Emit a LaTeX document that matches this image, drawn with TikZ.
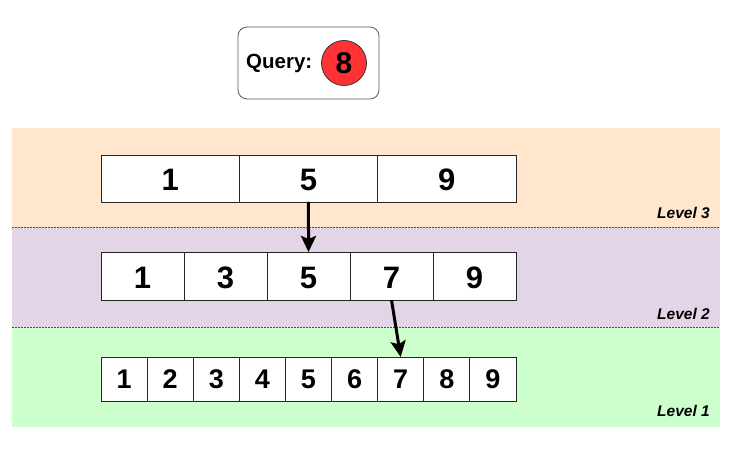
\documentclass[tikz,border=0pt]{standalone}
\usepackage{fontspec}
\setmainfont{Liberation Sans}
\usetikzlibrary{arrows.meta}
\definecolor{bandO}{HTML}{FFE6CC}
\definecolor{bandP}{HTML}{E1D5E7}
\definecolor{bandG}{HTML}{CCFFCC}
\definecolor{qred}{HTML}{FF3333}
\tikzset{
  sep/.style={draw=black!70,dash pattern=on 1.5pt off 1.5pt,line width=0.8pt},
  cellA/.style={draw=black!85,fill=white,line width=0.8pt,minimum width=138.33pt,minimum height=47pt,inner sep=0,outer sep=0,text height=25pt,text depth=0pt,font=\bfseries\fontsize{31}{31}\selectfont},
  cellB/.style={draw=black!85,fill=white,line width=0.8pt,minimum width=83pt,minimum height=48pt,inner sep=0,outer sep=0,text height=25pt,text depth=0pt,font=\bfseries\fontsize{31}{31}\selectfont},
  cellC/.style={draw=black!85,fill=white,line width=0.8pt,minimum width=46.11pt,minimum height=44pt,inner sep=0,outer sep=0,font=\bfseries\fontsize{27}{27}\selectfont},
  lvl/.style={anchor=east,font=\bfseries\itshape\fontsize{15.5}{15.5}\selectfont,inner sep=0},
  link/.style={-{Stealth[length=16pt,width=15pt,inset=3pt]},line width=3pt,black}
}
\begin{document}
\begin{tikzpicture}[x=1pt,y=-1pt]
\useasboundingbox[fill=white] (0,0) rectangle (732,457);
% bands
\fill[bandO] (12,128) rectangle (720,227);
\fill[bandP] (12,227) rectangle (720,327);
\fill[bandG] (12,327) rectangle (720,427);
\draw[sep] (12,227) -- (720,227);
\draw[sep] (12,327) -- (720,327);
% query
\node[draw=black!65,fill=white,rounded corners=9pt,line width=0.8pt,minimum width=141pt,minimum height=72pt,inner sep=0] (q) at (308.5,63) {};
\node[anchor=west,inner sep=0,font=\bfseries\fontsize{20.5}{20.5}\selectfont] (qt) at (246,63) {Query:};
\node[circle,draw=black!80,fill=qred,line width=0.8pt,minimum size=45pt,inner sep=0,font=\bfseries\fontsize{30}{30}\selectfont] (qv) at (344,63) {8};
% level 3
\foreach \v [count=\i from 0] in {1,5,9} {
  \node[cellA] (a\i) at ({101+138.33*(\i+0.5)},178.5) {\v};
}
% level 2
\foreach \v [count=\i from 0] in {1,3,5,7,9} {
  \node[cellB] (b\i) at ({101+83*(\i+0.5)},276) {\v};
}
% level 1
\foreach \v [count=\i from 0] in {1,2,3,4,5,6,7,8,9} {
  \node[cellC] (c\i) at ({101+46.11*(\i+0.5)},379) {\v};
}
\node[lvl] (l3) at (710,213) {Level 3};
\node[lvl] (l2) at (710,314) {Level 2};
\node[lvl] (l1) at (710,411) {Level 1};
% arrows
\draw[link] (a1.south) -- (b2.north);
\draw[link] (b3.south) -- (c6.north);
\end{tikzpicture}
\end{document}
